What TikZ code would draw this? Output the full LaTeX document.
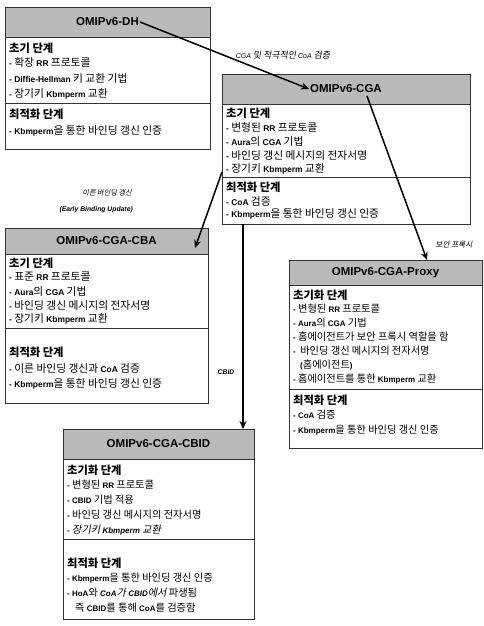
\documentclass[tikz,border=0pt]{standalone}
\usepackage{fontspec}
\setmainfont{Liberation Sans}
\newfontfamily\krf[Scale=1.28]{Noto Sans CJK KR}
\newfontfamily\krsl[Scale=1.28,FakeSlant=0.2]{Noto Sans CJK KR}
\newcommand\kor[1]{{\krf\mdseries #1}}
\newcommand\korsl[1]{{\krsl\mdseries #1}}
\usetikzlibrary{arrows.meta,calc}
\begin{document}
\begin{tikzpicture}[x=1pt,y=-1pt,
  frame/.style={draw=black!80, line width=0.6pt, inner sep=0pt, outer sep=0pt, anchor=north west},
  hdr/.style={fill=black!27, draw=black!80, line width=0.6pt, inner sep=0pt, outer sep=0pt, anchor=north west},
  ttl/.style={font=\bfseries\fontsize{11.5}{13}\selectfont, inner sep=1pt},
  sec/.style={font=\krf\bfseries\fontsize{8.8}{11}\selectfont, anchor=west, inner sep=0pt},
  itm/.style={font=\bfseries\fontsize{8}{9}\selectfont, anchor=west, inner sep=0pt},
  itmL/.style={itm, font=\bfseries\fontsize{8.4}{10}\selectfont},
  lbl/.style={font=\itshape\fontsize{7}{8}\selectfont, inner sep=1pt},
  elbl/.style={font=\bfseries\itshape\fontsize{6.8}{8}\selectfont, inner sep=1pt},
  divl/.style={draw=black!80, line width=0.6pt},
  conn/.style={line width=1.5pt, -{Stealth[length=8pt,width=7pt]}},
]
\useasboundingbox[fill=white] (0,0) rectangle (484,626);

% ---------- OMIPv6-DH ----------
\node[frame, minimum width=205, minimum height=142] (dh) at (5,7) {};
\node[hdr, minimum width=205, minimum height=30] (dhH) at (5,7) {};
\node[ttl] (dhT) at (dhH.center) {OMIPv6-DH};
\draw[divl] (5,103) -- (210,103);
\node[sec] (dh1) at (9,48) {초기 단계};
\node[itmL] (dh2) at (9,62) {- \kor{확장} RR \kor{프로토콜}};
\node[itmL] (dh3) at (9,78) {- Diffie-Hellman \kor{키 교환 기법}};
\node[itmL] (dh4) at (9,94) {- \kor{장기키} Kbmperm \kor{교환}};
\node[sec] (dh5) at (9,114) {최적화 단계};
\node[itmL] (dh6) at (9,131) {- Kbmperm\kor{을 통한 바인딩 갱신 인증}};

% ---------- OMIPv6-CGA ----------
\node[frame, minimum width=248, minimum height=150] (cga) at (222,74) {};
\node[hdr, minimum width=248, minimum height=30] (cgaH) at (222,74) {};
\node[ttl] (cgaT) at (cgaH.center) {OMIPv6-CGA};
\draw[divl] (222,177) -- (470,177);
\node[sec] (cga1) at (226,113) {초기 단계};
\node[itmL] (cga2) at (226,127) {- \kor{변형된} RR \kor{프로토콜}};
\node[itmL] (cga3) at (226,141) {- Aura\kor{의} CGA \kor{기법}};
\node[itmL] (cga4) at (226,155) {- \kor{바인딩 갱신 메시지의 전자서명}};
\node[itmL] (cga5) at (226,169) {- \kor{장기키} Kbmperm \kor{교환}};
\node[sec] (cga6) at (226,187) {최적화 단계};
\node[itmL] (cga7) at (226,201) {- CoA \kor{검증}};
\node[itmL] (cga8) at (226,214) {- Kbmperm\kor{을 통한 바인딩 갱신 인증}};

% ---------- OMIPv6-CGA-CBA ----------
\node[frame, minimum width=203, minimum height=175] (cba) at (5,228) {};
\node[hdr, minimum width=203, minimum height=26] (cbaH) at (5,228) {};
\node[ttl] (cbaT) at (cbaH.center) {OMIPv6-CGA-CBA};
\draw[divl] (5,328) -- (208,328);
\node[sec] (cba1) at (9,263) {초기 단계};
\node[itmL] (cba2) at (9,277) {- \kor{표준} RR \kor{프로토콜}};
\node[itmL] (cba3) at (9,291) {- Aura\kor{의} CGA \kor{기법}};
\node[itmL] (cba4) at (9,305) {- \kor{바인딩 갱신 메시지의 전자서명}};
\node[itmL] (cba5) at (9,319) {- \kor{장기키} Kbmperm \kor{교환}};
\node[sec] (cba6) at (9,352) {최적화 단계};
\node[itmL] (cba7) at (9,368) {- \kor{이른 바인딩 갱신과} CoA \kor{검증}};
\node[itmL] (cba8) at (9,384) {- Kbmperm\kor{을 통한 바인딩 갱신 인증}};

% ---------- OMIPv6-CGA-Proxy ----------
\node[frame, minimum width=193, minimum height=188] (prx) at (289,260) {};
\node[hdr, minimum width=193, minimum height=25] (prxH) at (289,260) {};
\node[ttl] (prxT) at (prxH.center) {OMIPv6-CGA-Proxy};
\draw[divl] (289,389) -- (482,389);
\node[sec] (prx1) at (293,295) {초기화 단계};
\node[itm] (prx2) at (293,309) {- \kor{변형된} RR \kor{프로토콜}};
\node[itm] (prx3) at (293,323) {- Aura\kor{의} CGA \kor{기법}};
\node[itm] (prx4) at (293,337) {- \kor{홈에이전트가 보안 프록시 역할을 함}};
\node[itm] (prx5) at (293,351) {-\ \ \kor{바인딩 갱신 메시지의 전자서명}};
\node[itm] (prx6) at (300,365) {(\kor{홈에이전트})};
\node[itm] (prx7) at (293,379) {- \kor{홈에이전트를 통한} Kbmperm \kor{교환}};
\node[sec] (prx8) at (293,400) {최적화 단계};
\node[itm] (prx9) at (293,415) {- CoA \kor{검증}};
\node[itm] (prx10) at (293,430) {- Kbmperm\kor{을 통한 바인딩 갱신 인증}};

% ---------- OMIPv6-CGA-CBID ----------
\node[frame, minimum width=191, minimum height=190] (cbid) at (63,429) {};
\node[hdr, minimum width=191, minimum height=30] (cbidH) at (63,429) {};
\node[ttl] (cbidT) at (cbidH.center) {OMIPv6-CGA-CBID};
\draw[divl] (63,539) -- (254,539);
\node[sec] (cbid1) at (67,470) {초기화 단계};
\node[itm] (cbid2) at (67,485) {- \kor{변형된} RR \kor{프로토콜}};
\node[itm] (cbid3) at (67,500) {- CBID \kor{기법 적용}};
\node[itm] (cbid4) at (67,515) {- \kor{바인딩 갱신 메시지의 전자서명}};
\node[itm] (cbid5) at (67,530) {- \korsl{장기키} {\itshape Kbmperm} \korsl{교환}};
\node[sec] (cbid6) at (67,563) {최적화 단계};
\node[itm] (cbid7) at (67,578) {- Kbmperm\kor{을 통한 바인딩 갱신 인증}};
\node[itm] (cbid8) at (67,593) {- HoA\kor{와} {\itshape CoA}\korsl{가} {\itshape CBID}\korsl{에서} \kor{파생됨}};
\node[itm] (cbid9) at (75,608) {\kor{즉} CBID\kor{를 통해} CoA\kor{를 검증함}};

% ---------- labels ----------
\node[lbl] (l1) at (283,55) {CGA \korsl{및 적극적인} CoA \korsl{검증}};
\node[lbl, font=\fontsize{5.6}{7}\selectfont, anchor=east] (l2) at (133,193) {\korsl{이른 바인딩 갱신}};
\node[elbl, anchor=east] (l3) at (134,210) {(Early Binding Update)};
\node[elbl] (l4) at (226,372) {CBID};
\node[lbl, font=\fontsize{6}{7}\selectfont] (l5) at (454,245) {\korsl{보안 프록시}};

% ---------- connectors ----------
\coordinate (cgaL) at ($(cga.north west)+(0,98)$);
\coordinate (cbaTip) at ($(cbaH.east)+(-13,7)$);
\coordinate (cgaB) at ($(cga.south west)+(21,0)$);
\coordinate (cbidTop) at ($(cbid.north west)+(180,0)$);
\coordinate (prxTop) at ($(prx.north west)+(138,0)$);
\coordinate (cgaR) at ($(cgaT.east)+(-16,7)$);
\draw[conn] (dhT.east) -- (cgaT.west);
\draw[conn] (cgaL) -- (cbaTip);
\draw[conn] (cgaB) -- (cbidTop);
\draw[conn] (cgaR) -- (prxTop);
\end{tikzpicture}
\end{document}
